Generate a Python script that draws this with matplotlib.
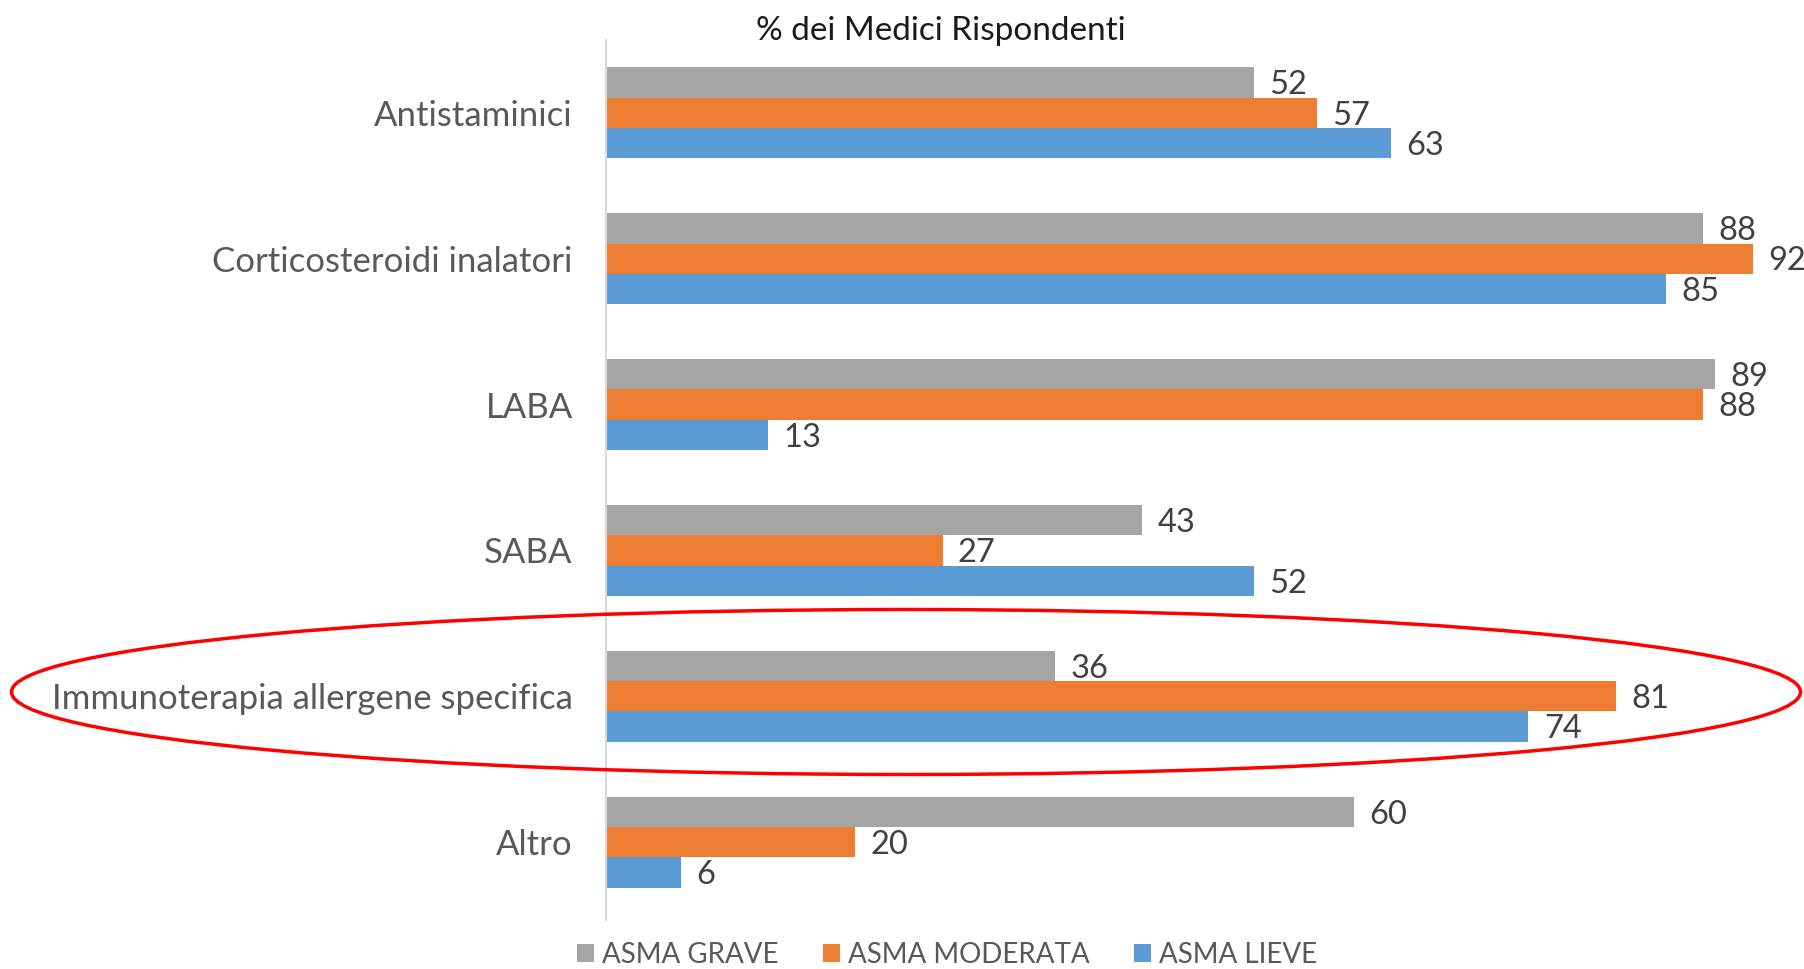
import matplotlib.pyplot as plt
from matplotlib.patches import Patch, Ellipse

plt.rcParams["font.family"] = ["Lato", "DejaVu Sans"]

categories = [
    "Antistaminici",
    "Corticosteroidi inalatori",
    "LABA",
    "SABA",
    "Immunoterapia allergene specifica",
    "Altro",
]
asma_grave = [52, 88, 89, 43, 36, 60]
asma_moderata = [57, 92, 88, 27, 81, 20]
asma_lieve = [63, 85, 13, 52, 74, 6]

series_names = ["ASMA GRAVE", "ASMA MODERATA", "ASMA LIEVE"]
colors = ["#A5A5A5", "#ED7D31", "#5B9BD5"]

fig = plt.figure(figsize=(18.04, 9.69), dpi=100)
ax = fig.add_axes([606 / 1804, 0.0502, 1 - 606 / 1804, 0.9584 - 0.0502])

bh = 0.208
ypos = list(range(len(categories)))
for i, (vals, col) in enumerate(zip([asma_grave, asma_moderata, asma_lieve], colors)):
    y = [p + (i - 1) * bh for p in ypos]
    bars = ax.barh(y, vals, height=bh, color=col, label=series_names[i])
    for b, v in zip(bars, vals):
        ax.annotate(str(v), (b.get_width(), b.get_y() + bh / 2),
                    xytext=(11, -2), textcoords="offset points",
                    ha="left", va="center", fontsize=23.5, color="#404040",
                    annotation_clip=False)

ax.set_xlim(0, 96.1)
ax.set_ylim(5.536, -0.497)
ax.set_yticks(ypos)
ax.set_yticklabels(categories, fontsize=25, color="#595959")
ax.tick_params(axis="y", length=0, pad=24)
ax.set_xticks([])
for s in ["top", "right", "bottom"]:
    ax.spines[s].set_visible(False)
ax.spines["left"].set_color("#D9D9D9")
ax.spines["left"].set_linewidth(1.5)

fig.text(941 / 1804, 1 - 31 / 969, "% dei Medici Rispondenti",
         ha="center", va="center", fontsize=24, color="#1a1a1a")

handles = [Patch(facecolor=c) for c in colors]
fig.legend(handles, series_names, loc="center", bbox_to_anchor=(0.525, 0.0144),
           ncol=3, frameon=False, fontsize=20, labelcolor="#595959",
           handlelength=0.6, handleheight=0.6, handletextpad=0.3,
           columnspacing=1.6)

ell = Ellipse((906 / 1804, 1 - 692 / 969), 1789 / 1804, 165 / 969,
              transform=fig.transFigure, fill=False, edgecolor="red", linewidth=2.5)
fig.add_artist(ell)

fig.savefig("out.png", dpi=100)
